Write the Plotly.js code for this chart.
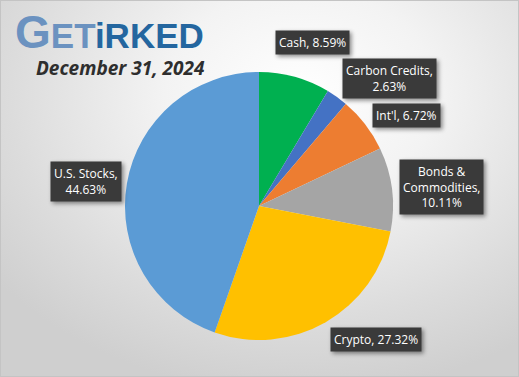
<!DOCTYPE html>
<html><head><meta charset="utf-8">
<script src="https://cdn.plot.ly/plotly-3.0.1.min.js"></script>
<style>
html,body{margin:0;padding:0;}
#wrap{width:519px;height:377px;box-sizing:border-box;border:1px solid #c4c4c4;
background:radial-gradient(ellipse 75% 80% at 58% 25%, #ffffff 0%, #f3f3f3 35%, #dcdcdc 75%, #cfcfcf 100%);}
#chart{width:517px;height:375px;}
.infolayer .annotation rect.bg{filter:drop-shadow(2px 2px 2px rgba(0,0,0,0.45));}
</style></head>
<body><div id="wrap"><div id="chart"></div></div>
<script>
const categories = ["Cash","Carbon Credits","Int'l","Bonds & Commodities","Crypto","U.S. Stocks"];
const values = [8.59, 2.63, 6.72, 10.11, 27.32, 44.63];
const labelTexts = ["Cash, 8.59%","Carbon Credits,<br>2.63%","Int'l, 6.72%","Bonds &<br>Commodities,<br>10.11%","Crypto, 27.32%","U.S. Stocks,<br>44.63%"];
const colors = ["#00b050","#4472c4","#ed7d31","#a5a5a5","#ffc000","#5b9bd5"];
const labelPos = [[311,42],[388,78],[405,115],[440,186],[375,338],[85,180]];

const W=517,H=375;
const cx=258, cy=205, r=134;
const annotations = [];
categories.forEach((c,i)=>{
  const [px,py]=labelPos[i];
  annotations.push({xref:'paper',yref:'paper',x:px/W,y:1-py/H,xanchor:'center',yanchor:'middle',
    text:labelTexts[i],showarrow:false,bgcolor:'#3a3a3a',borderpad:3,
    font:{family:'Open Sans',size:12,color:'#ffffff'}});
});
annotations.push({xref:'paper',yref:'paper',x:12/W,y:1-3/H,xanchor:'left',yanchor:'top',showarrow:false,
  text:"<span style='font-size:46px;color:#6b92c0'>G</span><span style='color:#6b92c0'>ET</span><span style='color:#24669f'>iRKED</span>",
  font:{family:'Liberation Sans',size:35,weight:'bold',color:'#24669f'}});
annotations.push({xref:'paper',yref:'paper',x:33/W,y:1-67/H,xanchor:'left',yanchor:'middle',showarrow:false,
  text:"December 31, 2024",font:{family:'Open Sans',size:19,weight:'bold',style:'italic',color:'#2e2e2e'}});

const data=[{type:'pie',labels:categories,values:values,sort:false,direction:'clockwise',rotation:0,
  marker:{colors:colors,line:{width:0}},textinfo:'none',hoverinfo:'label+percent',showlegend:false,
  domain:{x:[(cx-r)/W,(cx+r)/W],y:[1-(cy+r)/H,1-(cy-r)/H]}}];
const layout={width:W,height:H,margin:{l:0,r:0,t:0,b:0},paper_bgcolor:'rgba(0,0,0,0)',plot_bgcolor:'rgba(0,0,0,0)',
  showlegend:false,annotations:annotations};
Plotly.newPlot('chart',data,layout,{displayModeBar:false,staticPlot:true});
</script></body></html>
